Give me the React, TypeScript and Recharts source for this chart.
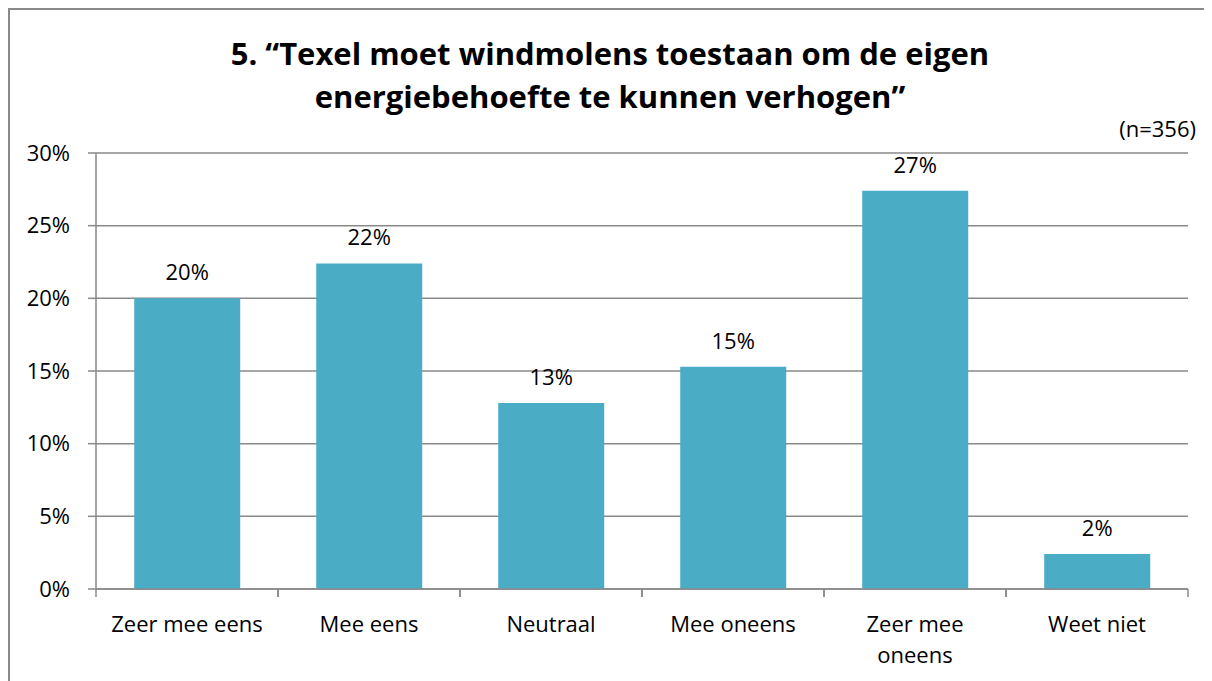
import { BarChart, Bar, XAxis, YAxis, CartesianGrid, LabelList } from "recharts";

const CATEGORIES = [
  "Zeer mee eens",
  "Mee eens",
  "Neutraal",
  "Mee oneens",
  "Zeer mee oneens",
  "Weet niet",
];
const PERCENTAGES = [20.0, 22.4, 12.8, 15.3, 27.4, 2.4];
const Y_TICKS = [0, 5, 10, 15, 20, 25, 30];

const TITLE_LINES = [
  "5. \u201CTexel moet windmolens toestaan om de eigen",
  "energiebehoefte te kunnen verhogen\u201D",
];
const SAMPLE_NOTE = "(n=356)";

const data = CATEGORIES.map((name, i) => ({ name, value: PERCENTAGES[i] }));

const AXIS_COLOR = "#898989";
const BAR_COLOR = "#4BACC6";
const FONT = "'Open Sans', sans-serif";

// greedy word wrap, measured on a canvas with the tick font
let ctx: CanvasRenderingContext2D | null = null;
const wrapLabel = (label: string, maxWidth: number) => {
  if (!ctx) ctx = document.createElement("canvas").getContext("2d");
  if (!ctx) return [label];
  ctx.font = `22px ${FONT}`;
  const lines: string[] = [];
  let cur = "";
  for (const w of label.split(" ")) {
    const next = cur ? `${cur} ${w}` : w;
    if (cur && ctx.measureText(next).width > maxWidth) {
      lines.push(cur);
      cur = w;
    } else {
      cur = next;
    }
  }
  if (cur) lines.push(cur);
  return lines;
};

const CategoryTick = (props: any) => {
  const { x, y, payload } = props;
  const half = payload.offset ?? 0;
  const lines = wrapLabel(String(payload.value), half * 2 - 22);
  return (
    <g>
      <line x1={x - half} x2={x - half} y1={y} y2={y + 8} stroke={AXIS_COLOR} strokeWidth={1.5} />
      <line x1={x + half} x2={x + half} y1={y} y2={y + 8} stroke={AXIS_COLOR} strokeWidth={1.5} />
      <text x={x} y={y + 43} textAnchor="middle" fontSize={22} fontFamily={FONT} fill="#000">
        {lines.map((l, i) => (
          <tspan key={i} x={x} dy={i === 0 ? 0 : 31}>
            {l}
          </tspan>
        ))}
      </text>
    </g>
  );
};

export default function App() {
  return (
    <div
      style={{
        position: "relative",
        width: 1204,
        height: 673,
        overflow: "hidden",
        fontFamily: FONT,
      }}
    >
      <div
        style={{
          position: "absolute",
          top: 0,
          left: 0,
          width: 1240,
          height: 700,
          borderTop: `2px solid ${AXIS_COLOR}`,
          borderLeft: `2px solid ${AXIS_COLOR}`,
        }}
      />
      <div
        style={{
          position: "absolute",
          top: 24,
          left: 0,
          width: 1204,
          textAlign: "center",
          fontWeight: 700,
          fontSize: 31,
          lineHeight: "43px",
          color: "#000",
        }}
      >
        {TITLE_LINES.map((l) => (
          <div key={l}>{l}</div>
        ))}
      </div>
      <div
        style={{
          position: "absolute",
          top: 105,
          right: 16,
          fontSize: 22,
          lineHeight: "30px",
          color: "#000",
        }}
      >
        {SAMPLE_NOTE}
      </div>
      <div style={{ position: "absolute", top: 0, left: 0 }}>
        <BarChart
          width={1204}
          height={673}
          data={data}
          margin={{ top: 145, right: 24, left: 0, bottom: 32 }}
          barCategoryGap="21%"
        >
          <CartesianGrid vertical={false} stroke={AXIS_COLOR} strokeWidth={1.5} />
          <XAxis
            dataKey="name"
            height={60}
            tickLine={false}
            tickSize={0}
            tickMargin={0}
            axisLine={{ stroke: AXIS_COLOR, strokeWidth: 1.5 }}
            tick={<CategoryTick />}
            interval={0}
          />
          <YAxis
            width={88}
            domain={[0, 30]}
            ticks={Y_TICKS}
            tickFormatter={(v: number) => `${v}%`}
            tickSize={8}
            tickMargin={18}
            axisLine={{ stroke: AXIS_COLOR, strokeWidth: 1.5 }}
            tickLine={{ stroke: AXIS_COLOR, strokeWidth: 1.5 }}
            tick={{ fill: "#000", fontSize: 22, fontFamily: FONT }}
            interval={0}
          />
          <Bar dataKey="value" fill={BAR_COLOR} isAnimationActive={false}>
            <LabelList
              dataKey="value"
              position="top"
              offset={18}
              formatter={(v: any) => `${Math.round(Number(v))}%`}
              fill="#000"
              fontSize={22}
              fontFamily={FONT}
            />
          </Bar>
        </BarChart>
      </div>
    </div>
  );
}
